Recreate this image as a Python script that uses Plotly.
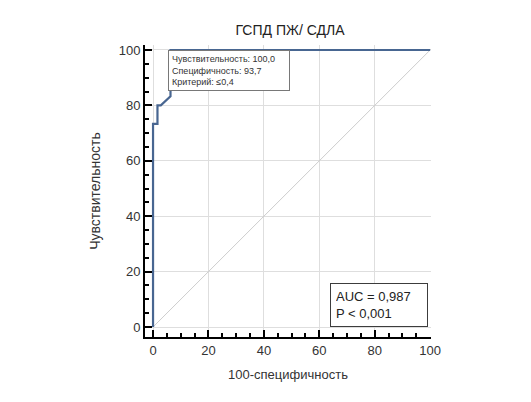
import plotly.graph_objects as go

# ROC-кривая: 100-специфичность / чувствительность
fpr = [0, 0, 1.6, 1.6, 2.8, 6.3, 6.3, 100]
sens = [0, 73.3, 73.3, 80, 80, 83.3, 100, 100]
diag = [0, 100]
ticks = [0, 20, 40, 60, 80, 100]

fig = go.Figure()
fig.add_trace(go.Scatter(x=diag, y=diag, mode='lines',
                         line=dict(color='rgb(205, 205, 205)', width=1),
                         hoverinfo='skip', showlegend=False))
fig.add_trace(go.Scatter(x=fpr, y=sens, mode='lines',
                         line=dict(color='rgb(72, 102, 145)', width=2.2),
                         showlegend=False))

# страница сдвинута на 8px (отступ body), поэтому поля уменьшены слева/сверху
fig.update_layout(
    width=531, height=402,
    margin=dict(l=137, r=108, t=37, b=73),
    plot_bgcolor='white',
    paper_bgcolor='white',
    font=dict(family="Liberation Sans, Arial, sans-serif", size=13, color="#333"),
    title=dict(text="ГСПД ПЖ/ СДЛА", x=0.531, xanchor='center',
               y=0.945, yanchor='middle',
               font=dict(size=14, color="#222")),
)

axis_style = dict(
    tickvals=ticks,
    showgrid=True,
    gridcolor='rgb(222, 222, 222)',
    gridwidth=1,
    zeroline=False,
    showline=True,
    linecolor='black',
    linewidth=2,
    ticks='inside',
    ticklen=7,
    tickwidth=1.5,
    tickcolor='black',
    minor=dict(dtick=5, ticks='inside', ticklen=4, tickcolor='black', showgrid=False),
    tickfont=dict(size=13, color="#333"),
    automargin=False,
)

fig.update_xaxes(range=[-2.9, 100.3], title_text="100-специфичность",
                 title_font=dict(size=13, color="#333"), title_standoff=13, **axis_style)
fig.update_yaxes(range=[-3.6, 101.8], title_text="Чувствительность",
                 title_font=dict(size=14, color="#333"), title_standoff=15, **axis_style)

fig.add_annotation(x=5.4, y=100, xref='x', yref='y', xanchor='left', yanchor='top',
                   text="Чувствительность: 100,0<br>Специфичность: 93,7<br>Критерий: ≤0,4",
                   showarrow=False, align='left', font=dict(size=9, color="#333"),
                   bgcolor='white', bordercolor='rgb(120, 120, 120)', borderwidth=1,
                   borderpad=3, width=114)
fig.add_annotation(x=63.9, y=0, xref='x', yref='y', xanchor='left', yanchor='bottom',
                   text="AUC = 0,987<br>P < 0,001",
                   showarrow=False, align='left', font=dict(size=13, color="#222"),
                   bgcolor='white', bordercolor='rgb(60, 60, 60)', borderwidth=1,
                   borderpad=5, width=86)

fig.write_html("out.html")
